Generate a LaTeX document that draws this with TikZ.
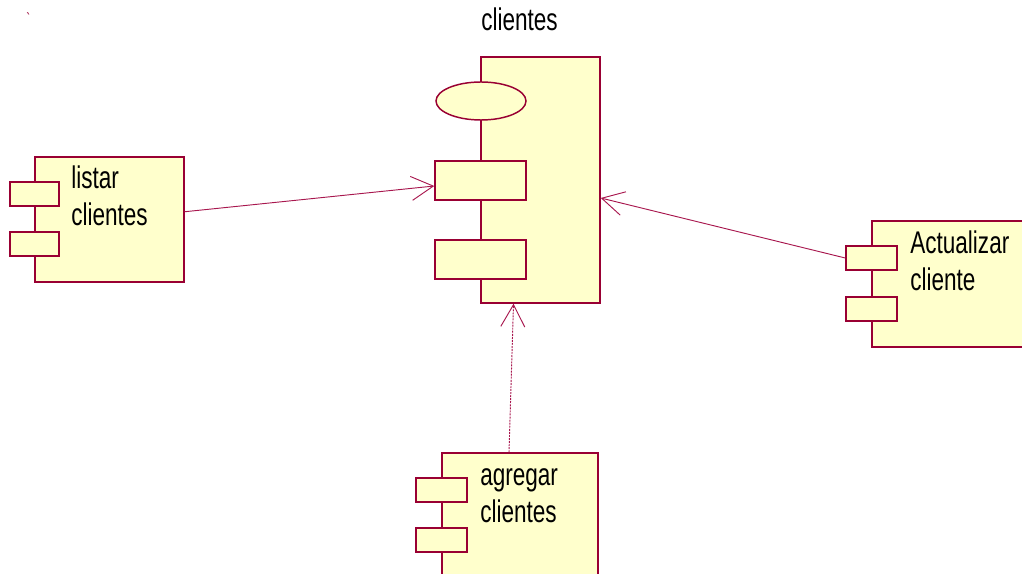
\documentclass[tikz,border=0pt]{standalone}
\usepackage{fontspec}
\setmainfont{Liberation Sans}[FakeStretch=0.72]
\usetikzlibrary{arrows.meta,calc,shapes.geometric}
\definecolor{umlred}{HTML}{990033}
\definecolor{umlfill}{HTML}{FFFFCC}
\definecolor{linkred}{HTML}{A8174E}
\tikzset{
  box/.style={draw=umlred, fill=umlfill, line width=1.1pt, inner sep=0pt, rectangle},
  lbl/.style={font=\fontsize{23.5}{27.75}\selectfont, inner sep=0pt, align=left, anchor=base west, text=black},
  link/.style={draw=linkred, line width=0.7pt, -{Straight Barb[length=16.5pt,width=18pt,line width=0.7pt]}},
  deplink/.style={link, dash pattern=on 1.5pt off 0.8pt},
}
\begin{document}
\begin{tikzpicture}[x=0.75pt,y=-0.75pt]
\useasboundingbox (0,0) rectangle (1022,574);
\clip (0,0) rectangle (1022,574);

% backtick mark
\node[text=umlred, font=\fontsize{12}{12}\selectfont, inner sep=0pt] (tick) at (29,19) {\textasciigrave};

% title
\node[lbl] (title) at (481,31) {clientes};

% central component "clientes"
\node[box, minimum width={119*0.75pt}, minimum height={246*0.75pt}] (main) at (540.5,180) {};
\node[box, ellipse, minimum width={90*0.75pt}, minimum height={38*0.75pt}] (eye) at (481,101) {};
\node[box, minimum width={91*0.75pt}, minimum height={39*0.75pt}] (p1) at (480.5,180.5) {};
\node[box, minimum width={91*0.75pt}, minimum height={39*0.75pt}] (p2) at (480.5,259.5) {};

% listar clientes
\node[box, minimum width={149*0.75pt}, minimum height={125*0.75pt}] (listar) at (109.5,219.5) {};
\node[box, minimum width={49*0.75pt}, minimum height={24*0.75pt}] (l1) at (34.5,194) {};
\node[box, minimum width={49*0.75pt}, minimum height={24*0.75pt}] (l2) at (34.5,244) {};
\node[lbl] (listartxt) at (71,226) {listar\\clientes};

% Actualizar cliente
\node[box, minimum width={208*0.75pt}, minimum height={126*0.75pt}] (act) at (976,284) {};
\node[box, minimum width={51*0.75pt}, minimum height={24*0.75pt}] (a1) at (871.5,258) {};
\node[box, minimum width={51*0.75pt}, minimum height={24*0.75pt}] (a2) at (871.5,309) {};
\node[lbl] (acttxt) at (910,291) {Actualizar\\cliente};

% agregar clientes
\node[box, minimum width={156*0.75pt}, minimum height={167*0.75pt}] (agr) at (520,536.5) {};
\node[box, minimum width={51*0.75pt}, minimum height={24*0.75pt}] (g1) at (441.5,490) {};
\node[box, minimum width={51*0.75pt}, minimum height={24*0.75pt}] (g2) at (441.5,540) {};
\node[lbl] (agrtxt) at (480,522) {agregar\\clientes};

% connectors
\draw[link] (listar) -- ($(p1.west)+(0,5.5)$);
\draw[link] (a1.west) -- ($(main.east)+(0,18)$);
\draw[deplink] ($(agr.north)+(-11,0)$) -- ($(main.south)+(-27,0)$);
\end{tikzpicture}
\end{document}
